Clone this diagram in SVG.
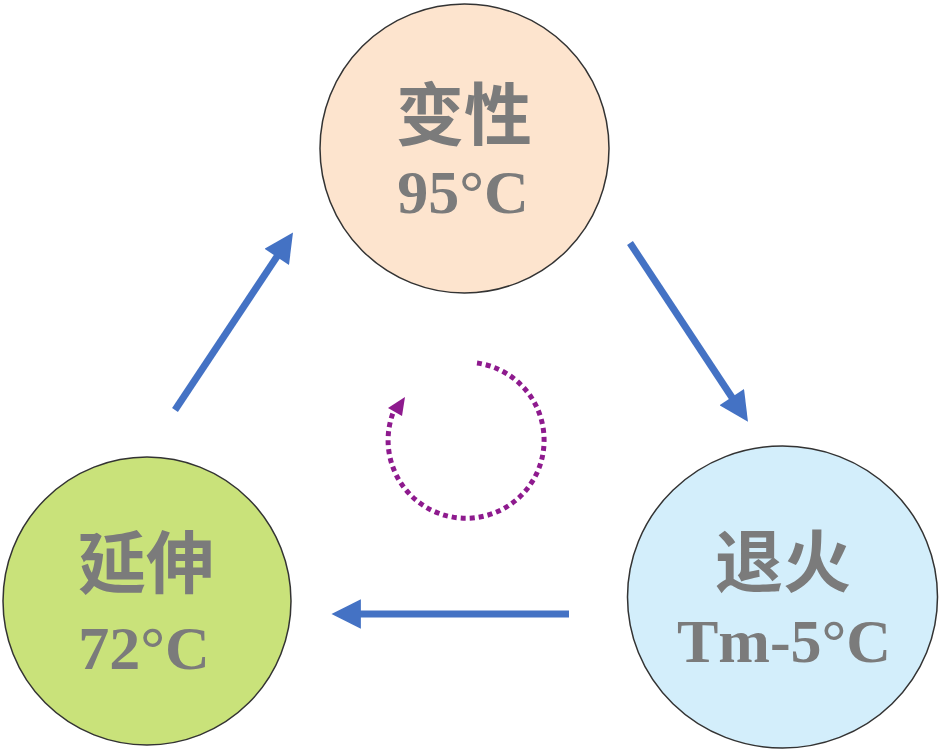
<svg xmlns="http://www.w3.org/2000/svg" width="944" height="752" viewBox="0 0 944 752">
<style>
.node{stroke:#333;stroke-width:1.5}
.cn{font-family:"Noto Sans CJK SC","Noto Sans",sans-serif;font-weight:bold;font-size:68px;fill:#7b7b7b;text-anchor:middle}
.tm{font-family:"Liberation Serif",serif;font-weight:bold;font-size:62px;fill:#7b7b7b;text-anchor:middle}
.flow{stroke:#4472C4;stroke-width:7;fill:none;marker-end:url(#ah)}
.cycle{stroke:#8E1A8E;stroke-width:5;stroke-dasharray:5 4;fill:none}
</style>
<defs>
<marker id="ah" viewBox="0 0 10 10" refX="2" refY="5" markerWidth="4.4" markerHeight="4.2" orient="auto" markerUnits="strokeWidth">
<path d="M0,0 L10,5 L0,10 Z" fill="#4472C4"/>
</marker>
</defs>
<rect width="944" height="752" fill="#ffffff"/>
<g id="node-denature">
<circle class="node" cx="464.5" cy="148.5" r="144.5" fill="#FDE4CE"/>
<text class="cn" x="464" y="140">变性</text>
<text class="tm" x="463" y="213">95°C</text>
</g>
<g id="node-anneal">
<ellipse class="node" cx="782.5" cy="597" rx="155" ry="151" fill="#D3EEFB"/>
<text class="cn" x="783" y="587">退火</text>
<text class="tm" x="784" y="662">Tm-5°C</text>
</g>
<g id="node-extend">
<circle class="node" cx="147" cy="601" r="144" fill="#C9E27A"/>
<text class="cn" x="146" y="588">延伸</text>
<text class="tm" x="144" y="669">72°C</text>
</g>
<g id="connectors">
<line class="flow" x1="175" y1="410" x2="280" y2="252"/>
<line class="flow" x1="630" y1="243" x2="735" y2="402"/>
<line class="flow" x1="569" y1="614" x2="355" y2="614"/>
<path class="cycle" d="M477 363 A78 78 0 1 1 393 413"/>
<polygon points="405,397 388,408 402,416" fill="#8E1A8E"/>
</g>
</svg>
